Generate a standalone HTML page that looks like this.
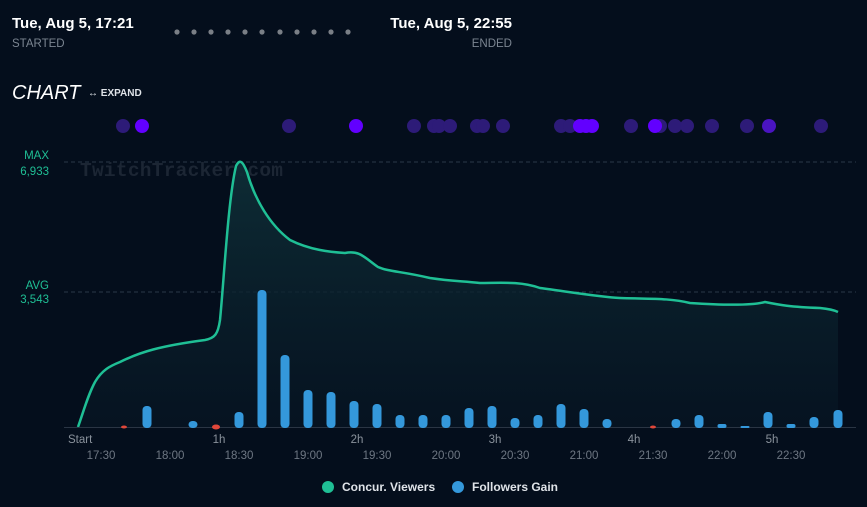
<!DOCTYPE html><html><head><style>
body{margin:0;width:867px;height:502px;background:#040e1c;font-family:"Liberation Sans",sans-serif;overflow:hidden}
</style></head><body>
<svg width="867" height="502" xmlns="http://www.w3.org/2000/svg" font-family="Liberation Sans, sans-serif">
<defs><linearGradient id="g" x1="0" y1="0" x2="0" y2="1"><stop offset="0" stop-color="#0f3038" stop-opacity="0.9"/><stop offset="1" stop-color="#071624" stop-opacity="0.6"/></linearGradient></defs>
<text x="12" y="28" fill="#fff" font-size="15" font-weight="bold">Tue, Aug 5, 17:21</text>
<text x="12" y="47" fill="#7b8591" font-size="11.5">STARTED</text>
<text x="512" y="28" fill="#fff" font-size="15" font-weight="bold" text-anchor="end">Tue, Aug 5, 22:55</text>
<text x="512" y="47" fill="#7b8591" font-size="11.5" text-anchor="end">ENDED</text>
<g fill="#7a7f86">
<circle cx="177" cy="32" r="2.6"/><circle cx="194" cy="32" r="2.6"/><circle cx="211" cy="32" r="2.6"/><circle cx="228" cy="32" r="2.6"/><circle cx="245" cy="32" r="2.6"/><circle cx="262" cy="32" r="2.6"/><circle cx="280" cy="32" r="2.6"/><circle cx="297" cy="32" r="2.6"/><circle cx="314" cy="32" r="2.6"/><circle cx="331" cy="32" r="2.6"/><circle cx="348" cy="32" r="2.6"/></g>
<text x="12" y="99" fill="#fff" font-size="20" font-style="italic">CHART</text>
<text x="88" y="96" fill="#dfe3e8" font-size="10" font-weight="bold">↔ EXPAND</text>
<g fill="#2d1b78">
<circle cx="123" cy="126" r="7"/><circle cx="289" cy="126" r="7"/><circle cx="414" cy="126" r="7"/><circle cx="434" cy="126" r="7"/><circle cx="439" cy="126" r="7"/><circle cx="450" cy="126" r="7"/><circle cx="477" cy="126" r="7"/><circle cx="483" cy="126" r="7"/><circle cx="503" cy="126" r="7"/><circle cx="561" cy="126" r="7"/><circle cx="570" cy="126" r="7"/><circle cx="631" cy="126" r="7"/><circle cx="660" cy="126" r="7"/><circle cx="675" cy="126" r="7"/><circle cx="687" cy="126" r="7"/><circle cx="712" cy="126" r="7"/><circle cx="747" cy="126" r="7"/><circle cx="821" cy="126" r="7"/></g>
<circle cx="769" cy="126" r="7" fill="#4a14c0"/>
<g fill="#6200ff"><circle cx="142" cy="126" r="7"/><circle cx="356" cy="126" r="7"/><circle cx="580" cy="126" r="7"/><circle cx="586" cy="126" r="7"/><circle cx="592" cy="126" r="7"/><circle cx="655" cy="126" r="7"/></g>
<text x="49" y="159" fill="#1fbf95" font-size="11.5" text-anchor="end">MAX</text>
<text x="49" y="175" fill="#1fbf95" font-size="11.5" text-anchor="end">6,933</text>
<text x="49" y="289" fill="#1fbf95" font-size="11.5" text-anchor="end">AVG</text>
<text x="49" y="303" fill="#1fbf95" font-size="11.5" text-anchor="end">3,543</text>
<line x1="64" y1="162" x2="856" y2="162" stroke="#2a3848" stroke-dasharray="4,3"/>
<line x1="64" y1="292" x2="856" y2="292" stroke="#2a3848" stroke-dasharray="4,3"/>
<text x="80" y="176" fill="#1c2634" font-size="19.5" font-weight="bold" font-family="Liberation Mono, monospace" textLength="203">TwitchTracker.com</text>
<path d="M78,427 C84,410 88,395 95,382 C102,370 110,366 120,362 C140,352 160,346 205,340 C215,338 218,334 220,320 C224,280 228,200 236,166 C240,158 243,162 247,172 C255,200 270,225 290,240 C310,250 330,252 345,253 C360,250 365,258 378,267 C390,272 400,271 430,278 C450,281 460,281 480,283 C500,283 520,281 540,288 C570,292 600,297 620,298 C650,299 670,298 690,303 C720,305 750,306 765,302 C780,305 790,307 820,308 C830,309 834,310 838,312 L838,427 Z" fill="url(#g)"/>
<path d="M78,427 C84,410 88,395 95,382 C102,370 110,366 120,362 C140,352 160,346 205,340 C215,338 218,334 220,320 C224,280 228,200 236,166 C240,158 243,162 247,172 C255,200 270,225 290,240 C310,250 330,252 345,253 C360,250 365,258 378,267 C390,272 400,271 430,278 C450,281 460,281 480,283 C500,283 520,281 540,288 C570,292 600,297 620,298 C650,299 670,298 690,303 C720,305 750,306 765,302 C780,305 790,307 820,308 C830,309 834,310 838,312" fill="none" stroke="#1fbf95" stroke-width="2.5"/>
<line x1="64" y1="427.5" x2="856" y2="427.5" stroke="#2a3544"/>
<g fill="#3498db">
<rect x="142.5" y="406" width="9" height="22" rx="4"/><rect x="188.5" y="421" width="9" height="7" rx="4"/><rect x="234.5" y="412" width="9" height="16" rx="4"/><rect x="257.5" y="290" width="9" height="138" rx="4"/><rect x="280.5" y="355" width="9" height="73" rx="4"/><rect x="303.5" y="390" width="9" height="38" rx="4"/><rect x="326.5" y="392" width="9" height="36" rx="4"/><rect x="349.5" y="401" width="9" height="27" rx="4"/><rect x="372.5" y="404" width="9" height="24" rx="4"/><rect x="395.5" y="415" width="9" height="13" rx="4"/><rect x="418.5" y="415" width="9" height="13" rx="4"/><rect x="441.5" y="415" width="9" height="13" rx="4"/><rect x="464.5" y="408" width="9" height="20" rx="4"/><rect x="487.5" y="406" width="9" height="22" rx="4"/><rect x="510.5" y="418" width="9" height="10" rx="4"/><rect x="533.5" y="415" width="9" height="13" rx="4"/><rect x="556.5" y="404" width="9" height="24" rx="4"/><rect x="579.5" y="409" width="9" height="19" rx="4"/><rect x="602.5" y="419" width="9" height="9" rx="4"/><rect x="671.5" y="419" width="9" height="9" rx="4"/><rect x="694.5" y="415" width="9" height="13" rx="4"/><rect x="717.5" y="424" width="9" height="4" rx="2"/><rect x="740.5" y="426" width="9" height="2" rx="1"/><rect x="763.5" y="412" width="9" height="16" rx="4"/><rect x="786.5" y="424" width="9" height="4" rx="2"/><rect x="809.5" y="417" width="9" height="11" rx="4"/><rect x="833.5" y="410" width="9" height="18" rx="4"/></g>
<g fill="#e0473a"><ellipse cx="124" cy="427" rx="3" ry="1.5"/><ellipse cx="216" cy="427" rx="4" ry="2.5"/><ellipse cx="653" cy="427" rx="3" ry="1.5"/></g>
<g fill="#8a929c" font-size="11.5">
<text x="68" y="443">Start</text><text x="219" y="443" text-anchor="middle">1h</text><text x="357" y="443" text-anchor="middle">2h</text><text x="495" y="443" text-anchor="middle">3h</text><text x="634" y="443" text-anchor="middle">4h</text><text x="772" y="443" text-anchor="middle">5h</text></g>
<g fill="#6e7783" font-size="11.5" text-anchor="middle">
<text x="101" y="459">17:30</text><text x="170" y="459">18:00</text><text x="239" y="459">18:30</text><text x="308" y="459">19:00</text><text x="377" y="459">19:30</text><text x="446" y="459">20:00</text><text x="515" y="459">20:30</text><text x="584" y="459">21:00</text><text x="653" y="459">21:30</text><text x="722" y="459">22:00</text><text x="791" y="459">22:30</text></g>
<circle cx="328" cy="487" r="6" fill="#1fbf95"/><text x="342" y="491" fill="#dfe3e8" font-size="12" font-weight="bold">Concur. Viewers</text>
<circle cx="458" cy="487" r="6" fill="#3498db"/><text x="472" y="491" fill="#dfe3e8" font-size="12" font-weight="bold">Followers Gain</text>
</svg></body></html>
